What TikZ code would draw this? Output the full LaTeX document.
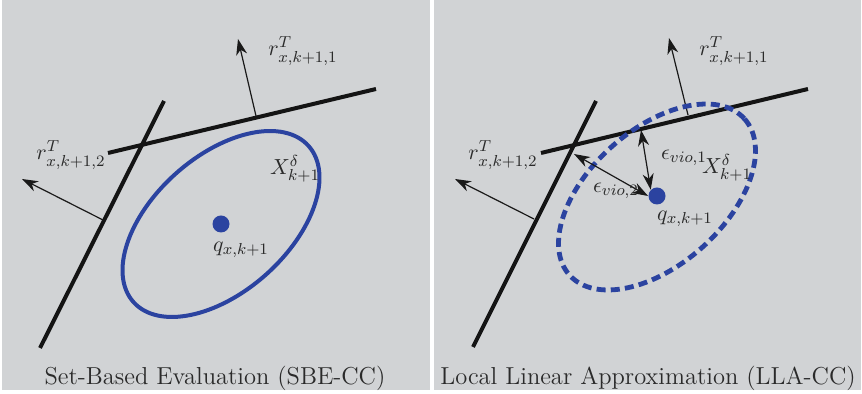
\documentclass[tikz,border=0pt]{standalone}
\usetikzlibrary{arrows.meta}
\definecolor{panelgray}{HTML}{D1D3D5}
\definecolor{setblue}{HTML}{2B43A0}
\definecolor{inkgray}{HTML}{2A2A2A}
\tikzset{
  panel/.style={fill=panelgray,draw=none},
  bound/.style={line width=2bp,black!92},
  tip/.style={},
  normal/.style={line width=0.6bp,black!90,-{Stealth[length=8bp,width=5.5bp,inset=2.5bp]}},
  viol/.style={line width=0.6bp,black!90,{Stealth[length=8bp,width=5.5bp,inset=2.5bp]}-{Stealth[length=8bp,width=5.5bp,inset=2.5bp]}},
  setline/.style={line width=2bp,setblue},
  lbl/.style={inner sep=0pt,text=inkgray,font=\fontsize{11}{13}\selectfont},
  captext/.style={inner sep=0pt,text=inkgray,font=\fontsize{12.3}{14}\selectfont},
  dot/.style={circle,fill=setblue,inner sep=0pt,minimum size=8.5bp},
}
\begin{document}
\begin{tikzpicture}[x=0.5bp,y=-0.5bp]
\useasboundingbox (0,0) rectangle (862,394);
\fill[white] (0,0) rectangle (862,394);
\fill[panel] (2,0) rectangle (430,390);
\fill[panel] (434,0) rectangle (861,390);

% ---- left panel ----
\coordinate (L1a) at (108,153);
\coordinate (L1b) at (376,89);
\coordinate (L2a) at (164,101);
\coordinate (L2b) at (40,348);
\draw[bound] (L1a) -- (L1b);
\draw[bound] (L2a) -- (L2b);
\coordinate (n1s) at (256,116);
\coordinate (n1e) at (238,39);
\coordinate (n2s) at (103,220);
\coordinate (n2e) at (22,179);
\draw[normal] (n1s) -- (n1e);
\draw[normal] (n2s) -- (n2e);
\draw[setline,rotate around={41.7:(221,224)}] (221,224) ellipse [x radius=117.3, y radius=67.7];
\node[dot] (qL) at (221,224) {};
\node[lbl] (r1L) at (303,51) {$r_{x,k+1,1}^T$};
\node[lbl] (r2L) at (71,155) {$r_{x,k+1,2}^T$};
\node[lbl] (XL) at (295,169) {$X_{k+1}^{\delta}$};
\node[lbl] (qlL) at (241,250) {$q_{x,k+1}$};
\node[captext] (capL) at (215,378) {Set-Based Evaluation (SBE-CC)};

% ---- right panel ----
\coordinate (R1a) at (541,153);
\coordinate (R1b) at (808,89);
\coordinate (R2a) at (596,101);
\coordinate (R2b) at (473,347);
\draw[bound] (R1a) -- (R1b);
\draw[bound] (R2a) -- (R2b);
\coordinate (m1s) at (688,115);
\coordinate (m1e) at (669,38);
\coordinate (m2s) at (534,219);
\coordinate (m2e) at (455,179);
\draw[normal] (m1s) -- (m1e);
\draw[normal] (m2s) -- (m2e);
\draw[setline,line width=2.4bp,dash pattern=on 4.5bp off 2.6bp,rotate around={41.7:(657,197)}] (657,197) ellipse [x radius=117.3, y radius=67.7];
\node[dot] (qR) at (657,196) {};
\coordinate (v1) at (641,130);
\coordinate (v2) at (574,154);
\draw[viol] (v1) -- (qR.north west);
\draw[viol] (v2) -- (qR.west);
\node[lbl] (r1R) at (734,51) {$r_{x,k+1,1}^T$};
\node[lbl] (r2R) at (503,155) {$r_{x,k+1,2}^T$};
\node[lbl] (XR) at (727,168) {$X_{k+1}^{\delta}$};
\node[lbl] (qlR) at (685,219) {$q_{x,k+1}$};
\node[lbl] (e1) at (684,158) {$\epsilon_{vio,1}$};
\node[lbl] (e2) at (616,191) {$\epsilon_{vio,2}$};
\node[captext] (capR) at (648,378) {Local Linear Approximation (LLA-CC)};
\end{tikzpicture}
\end{document}
